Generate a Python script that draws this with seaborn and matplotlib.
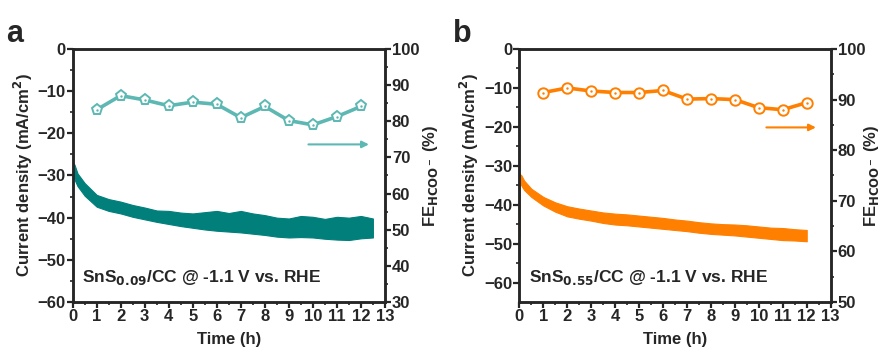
import numpy as np
import pandas as pd
import seaborn as sns
import matplotlib
matplotlib.use("Agg")
import matplotlib.pyplot as plt

# ---- data ----
fe_time = [1, 2, 3, 4, 5, 6, 7, 8, 9, 10, 11, 12]
fe_a = [83.2, 87.1, 85.9, 84.3, 85.3, 84.7, 81.0, 84.1, 80.2, 79.0, 81.3, 84.1]
fe_b = [91.4, 92.3, 91.7, 91.4, 91.4, 91.8, 90.1, 90.2, 90.0, 88.4, 88.0, 89.4]

# current density band (upper / lower edge of the noisy trace)
t_a = [0.03, 0.08, 0.2, 0.5, 1, 1.5, 2, 2.5, 3, 3.5, 4, 4.5, 5, 5.5, 6, 6.5, 7, 7.5,
       8, 8.5, 9, 9.5, 10, 10.5, 11, 11.5, 12, 12.5]
j_a_top = [-27.0, -27.5, -29.5, -31.8, -34.6, -35.6, -36.2, -37.0, -37.6, -38.3,
           -38.4, -38.8, -39.0, -38.7, -38.4, -38.9, -38.4, -39.0, -39.4, -40.0,
           -40.2, -39.6, -39.8, -40.3, -39.8, -40.0, -39.6, -40.2]
j_a_bot = [-30.0, -31.0, -32.5, -34.8, -37.4, -38.4, -39.0, -39.8, -40.4, -41.0,
           -41.5, -42.0, -42.4, -42.8, -43.1, -43.3, -43.5, -43.8, -44.1, -44.5,
           -44.7, -44.6, -44.7, -45.0, -45.2, -45.3, -44.9, -44.7]
spike_a = [-30.0, -41.5]

t_b = [0.03, 0.08, 0.2, 0.5, 1, 1.5, 2, 2.5, 3, 3.5, 4, 4.5, 5, 5.5, 6, 6.5, 7, 7.5,
       8, 8.5, 9, 9.5, 10, 10.5, 11, 11.5, 12]
j_b_top = [-32.2, -32.4, -33.8, -35.9, -38.0, -39.4, -40.4, -41.0, -41.5, -42.0,
           -42.3, -42.5, -42.8, -43.1, -43.4, -43.8, -44.1, -44.5, -44.8, -45.0,
           -45.1, -45.3, -45.6, -45.9, -46.0, -46.3, -46.5]
j_b_bot = [-34.5, -35.0, -36.2, -38.0, -40.2, -41.8, -43.0, -43.6, -44.1, -44.7,
           -45.1, -45.3, -45.6, -45.9, -46.2, -46.5, -46.8, -47.2, -47.5, -47.7,
           -47.9, -48.2, -48.5, -48.8, -49.1, -49.2, -49.4]
spike_b = [-32.5, -48.4]

arrow_a = [9.7, 12.45, 73.6]
arrow_b = [10.2, 12.5, 84.5]

teal, teal_light = "#007f7b", "#5db8b3"
orange = "#ff7f00"

sns.set_style("ticks")
plt.rcParams["font.family"] = ["Liberation Sans", "DejaVu Sans"]
plt.rcParams["font.weight"] = "bold"
plt.rcParams["axes.labelweight"] = "bold"
plt.rcParams["mathtext.default"] = "bf"

fig = plt.figure(figsize=(8.82, 3.53), dpi=100)


def panel(rect, letter, t, top, bot, spike, color, fe, fe_color, marker, ylim_l, ylim_r,
          rticks, arrow, label, rpad):
    ax = fig.add_axes(rect)
    ax.fill_between(t, top, bot, color=color, lw=0.8, edgecolor=color)
    ax.plot([t[0], t[0]], spike, color=color, lw=1.2)
    ax.set_xlim(0, 13)
    ax.set_ylim(*ylim_l)
    ax.set_xticks(range(0, 14))
    ax.set_yticks(range(0, -61, -10))
    ax.set_xticks(np.arange(0.5, 13, 1), minor=True)
    ax.set_yticks(np.arange(-5, ylim_l[0], -10), minor=True)
    ax.set_xlabel("Time (h)", fontsize=12, labelpad=6)
    ax.set_ylabel("Current density (mA/cm$^2$)", fontsize=12, labelpad=2)

    ax2 = ax.twinx()
    df = pd.DataFrame({"t": fe_time, "fe": fe})
    sns.lineplot(data=df, x="t", y="fe", ax=ax2, color=fe_color, lw=2.6,
                 marker=marker, markersize=8 if marker == "p" else 7.5,
                 markerfacecolor="white", markeredgecolor=fe_color,
                 markeredgewidth=1.4)
    ax2.plot(fe_time, fe, ls="none", marker=".", ms=1.5, color=fe_color)
    ax2.set_ylim(*ylim_r)
    ax2.set_yticks(rticks)
    ax2.set_yticks(np.arange(rticks[0] + 5, rticks[-1], 10), minor=True)
    ax2.set_ylabel("FE$_{HCOO^-}$ (%)", fontsize=12, labelpad=rpad)
    ax2.annotate("", xy=(arrow[1], arrow[2]), xytext=(arrow[0], arrow[2]),
                 arrowprops=dict(arrowstyle="-|>", color=fe_color, lw=1.5,
                                 mutation_scale=10))

    for a in (ax, ax2):
        for s in a.spines.values():
            s.set_linewidth(1.8)
        a.tick_params(which="major", length=4, width=1.6, labelsize=12, pad=1)
        a.tick_params(which="minor", length=2.5, width=1.2)
        for lab in a.get_xticklabels() + a.get_yticklabels():
            lab.set_fontweight("bold")
    ax.text(0.03, 0.08, label, transform=ax.transAxes, fontsize=12.5, fontweight="bold")
    fig.text(rect[0] - 0.075, 0.88, letter, fontsize=22, fontweight="bold")
    return ax


panel([0.0824, 0.1445, 0.354, 0.7167], "a", t_a, j_a_top, j_a_bot, spike_a, teal,
      fe_a, teal_light, "p", (-60, 0), (30, 100), list(range(30, 101, 10)), arrow_a,
      "SnS$_{0.09}$/CC @ -1.1 V vs. RHE", 1)
panel([0.5888, 0.1445, 0.353, 0.7167], "b", t_b, j_b_top, j_b_bot, spike_b, orange,
      fe_b, orange, "o", (-65, 0), (50, 100), list(range(50, 101, 10)), arrow_b,
      "SnS$_{0.55}$/CC @ -1.1 V vs. RHE", -2)

fig.savefig("out.png", dpi=100)
